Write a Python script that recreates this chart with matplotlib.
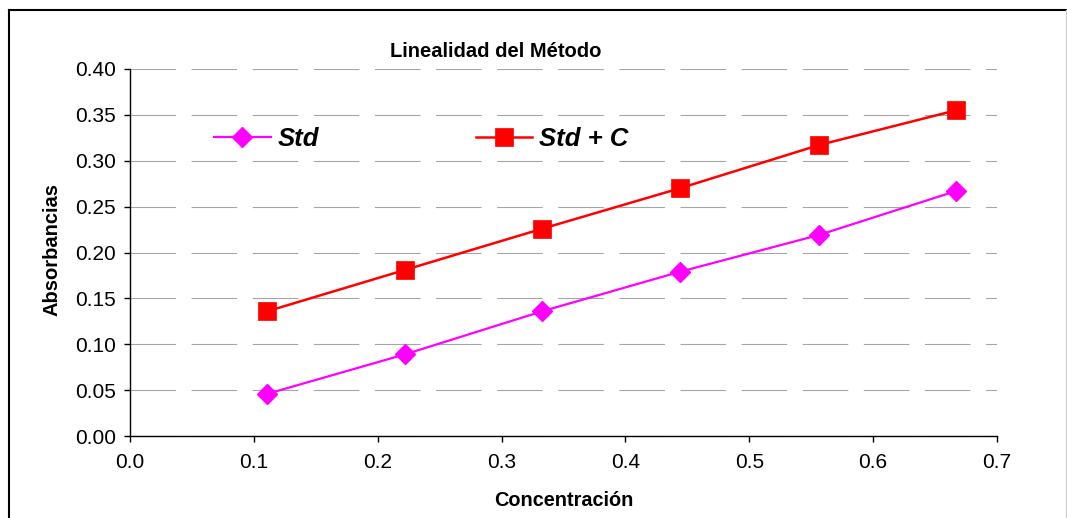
import matplotlib
matplotlib.use("Agg")
import matplotlib.pyplot as plt
from matplotlib.lines import Line2D

plt.rcParams['font.family'] = ['Liberation Sans', 'DejaVu Sans']

# ── Data ───────────────────────────────────────────────────
concentracion = [0.111, 0.222, 0.333, 0.444, 0.556, 0.667]
abs_std       = [0.046, 0.089, 0.136, 0.179, 0.219, 0.267]
abs_std_c     = [0.136, 0.181, 0.226, 0.270, 0.317, 0.355]

x_ticks = [0.0, 0.1, 0.2, 0.3, 0.4, 0.5, 0.6, 0.7]
y_ticks = [0.00, 0.05, 0.10, 0.15, 0.20, 0.25, 0.30, 0.35, 0.40]

W, H = 1067, 518
fig = plt.figure(figsize=(W / 100, H / 100), dpi=100)
ax = fig.add_axes([130 / W, 82 / H, 867 / W, 367 / H])

# ── Series ─────────────────────────────────────────────────
ax.plot(concentracion, abs_std, color='#FF00FF', lw=1.6, marker='D',
        ms=9.8, mec='#FF00FF', mfc='#FF00FF', label='Std', zorder=3)
ax.plot(concentracion, abs_std_c, color='#FF0000', lw=1.8, marker='s',
        ms=12.5, mec='#FF0000', mfc='#FF0000', mew=0.5, label='Std + C', zorder=3)

# ── Axes styling (Excel look) ──────────────────────────────
ax.set_xlim(0, 0.7)
ax.set_ylim(0, 0.40)
ax.set_xticks(x_ticks)
ax.set_yticks(y_ticks)
ax.set_xticklabels([f'{v:.1f}' for v in x_ticks])
ax.set_yticklabels([f'{v:.2f}' for v in y_ticks])
ax.tick_params(axis='both', direction='out', length=4.5, width=1,
               labelsize=15, colors='black')
ax.tick_params(axis='y', pad=5.5)
ax.tick_params(axis='x', pad=8)

for side in ['top', 'right']:
    ax.spines[side].set_visible(False)
for side in ['left', 'bottom']:
    ax.spines[side].set_linewidth(1.0)

ax.grid(axis='y', color='#a6a6a6', lw=0.8, linestyle=(0, (41, 14)))
ax.set_axisbelow(True)

ax.text(0.4216, 1.047, 'Linealidad del Método', transform=ax.transAxes,
        ha='center', va='center', fontsize=14.5, fontweight='bold')

ax.set_xlabel('Concentración', fontsize=14.3, fontweight='bold')
ax.xaxis.label.set_va('center')
ax.xaxis.set_label_coords(0.5, (436 - 501) / 367)

ax.set_ylabel('Absorbancias', fontsize=14.5, fontweight='bold')
ax.yaxis.label.set_va('center')
ax.yaxis.set_label_coords((52 - 130) / 867, (436 - 250) / 367)

ax.legend(loc='center left', bbox_to_anchor=(214 / W, 1 - 139 / H),
          bbox_transform=fig.transFigure, ncol=2, frameon=False,
          prop={'weight': 'bold', 'style': 'italic', 'size': 18.5},
          handlelength=2.2, handletextpad=0.27, columnspacing=6.1,
          borderpad=0, borderaxespad=0)

# ── Chart border ───────────────────────────────────────────
fig.add_artist(Line2D([9 / W, 9 / W], [0, 1 - 10 / H], color='black', lw=1.5,
                      transform=fig.transFigure))
fig.add_artist(Line2D([9 / W, 1066 / W], [1 - 10 / H, 1 - 10 / H], color='black',
                      lw=1.5, transform=fig.transFigure))
fig.add_artist(Line2D([1066 / W, 1066 / W], [0, 1 - 10 / H], color='#d0d0d0',
                      lw=1.0, transform=fig.transFigure))

plt.savefig('out.png', dpi=100)
